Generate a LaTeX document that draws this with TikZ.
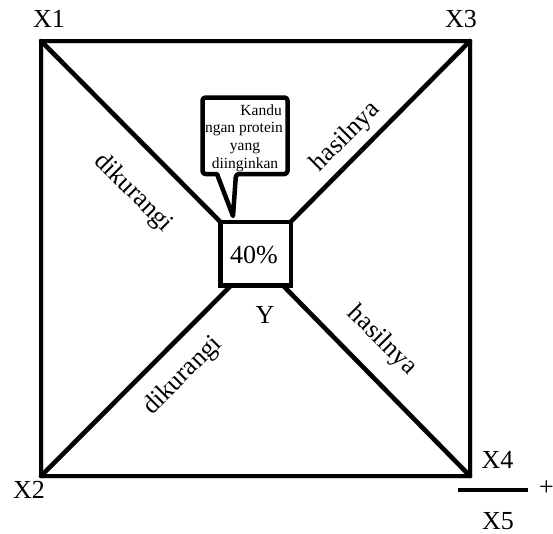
\documentclass[tikz,border=0pt]{standalone}
\usepackage{fontspec}
\setmainfont{Liberation Serif}
\begin{document}
\begin{tikzpicture}[x=1pt,y=-1pt,
  lbl/.style={inner sep=0pt, font=\fontsize{26}{30}\selectfont},
  small/.style={inner sep=0pt, font=\fontsize{15.5}{18}\selectfont},
  edge/.style={line width=4.5pt, line cap=round, line join=round},
  shade/.style={line width=5pt, draw=black!18, line cap=round, line join=round, shift={(2pt,-2pt)}},
]
\useasboundingbox (0,0) rectangle (553,533);
% corners of the outer square
\coordinate (c1) at (41,41);
\coordinate (c3) at (470,41);
\coordinate (c2) at (41,476);
\coordinate (c4) at (470,476);
% centre box (placed first to get anchors)
\node[line width=4.5pt, minimum width=66pt, minimum height=59pt, inner sep=0pt] (box) at (255.5,253.5) {};
\coordinate (bl) at ([xshift=11pt]box.south west);
\coordinate (br) at ([xshift=-8pt]box.south east);
% soft shadows
\draw[shade] (c1) -- (c3) -- (c4) -- (c2) -- cycle;
\draw[shade] (c1) -- (box.north west);
\draw[shade] (c3) -- (box.north east);
\draw[shade] (c2) -- (bl);
\draw[shade] (c4) -- (br);
% outer square and diagonals
\draw[edge] (c1) -- (c3) -- (c4) -- (c2) -- cycle;
\draw[edge] (c1) -- (box.north west);
\draw[edge] (c3) -- (box.north east);
\draw[edge] (c2) -- (bl);
\draw[edge] (c4) -- (br);
\draw[line width=4.5pt, fill=white] (box.north west) rectangle (box.south east);
\node[lbl, anchor=base] (pct) at (254,263) {40\%};
% callout
\coordinate (tip) at (233,216);
\draw[line width=4.5pt, fill=white, line join=round] (217,174) [rounded corners=3pt] -- (202.5,174) -- (202.5,97.5) -- (287.5,97.5) -- (287.5,174) -- (236,174) [sharp corners] -- (tip) -- cycle;
\node[small, anchor=base east] (t1) at (282,115.5) {Kandu};
\node[small, anchor=base] (t2) at (244,132.5) {ngan protein};
\node[small, anchor=base] (t3) at (245,150.5) {yang};
\node[small, anchor=base] (t4) at (245,168.5) {diinginkan};
% diagonal labels
\node[lbl, rotate=-45] (d1) at (133,193) {dikurangi};
\node[lbl, rotate=45] (h1) at (346,137) {hasilnya};
\node[lbl, rotate=45] (d2) at (183,376) {dikurangi};
\node[lbl, rotate=-45] (h2) at (382,341) {hasilnya};
\node[lbl, anchor=base] (y) at (265,323) {Y};
% corner labels
\node[lbl, anchor=base] (x1) at (49,27) {X1};
\node[lbl, anchor=base] (x3) at (461,27) {X3};
\node[lbl, anchor=base] (x2) at (29,498) {X2};
\node[lbl, anchor=base] (x4) at (497.5,468) {X4};
\node[lbl, anchor=base] (x5) at (498,529) {X5};
\coordinate (f1) at (458,490);
\coordinate (f2) at (528,490);
\draw[line width=3.5pt] (f1) -- (f2);
\node[lbl, anchor=base west] (plus) at (539,495.5) {+};
\end{tikzpicture}
\end{document}
